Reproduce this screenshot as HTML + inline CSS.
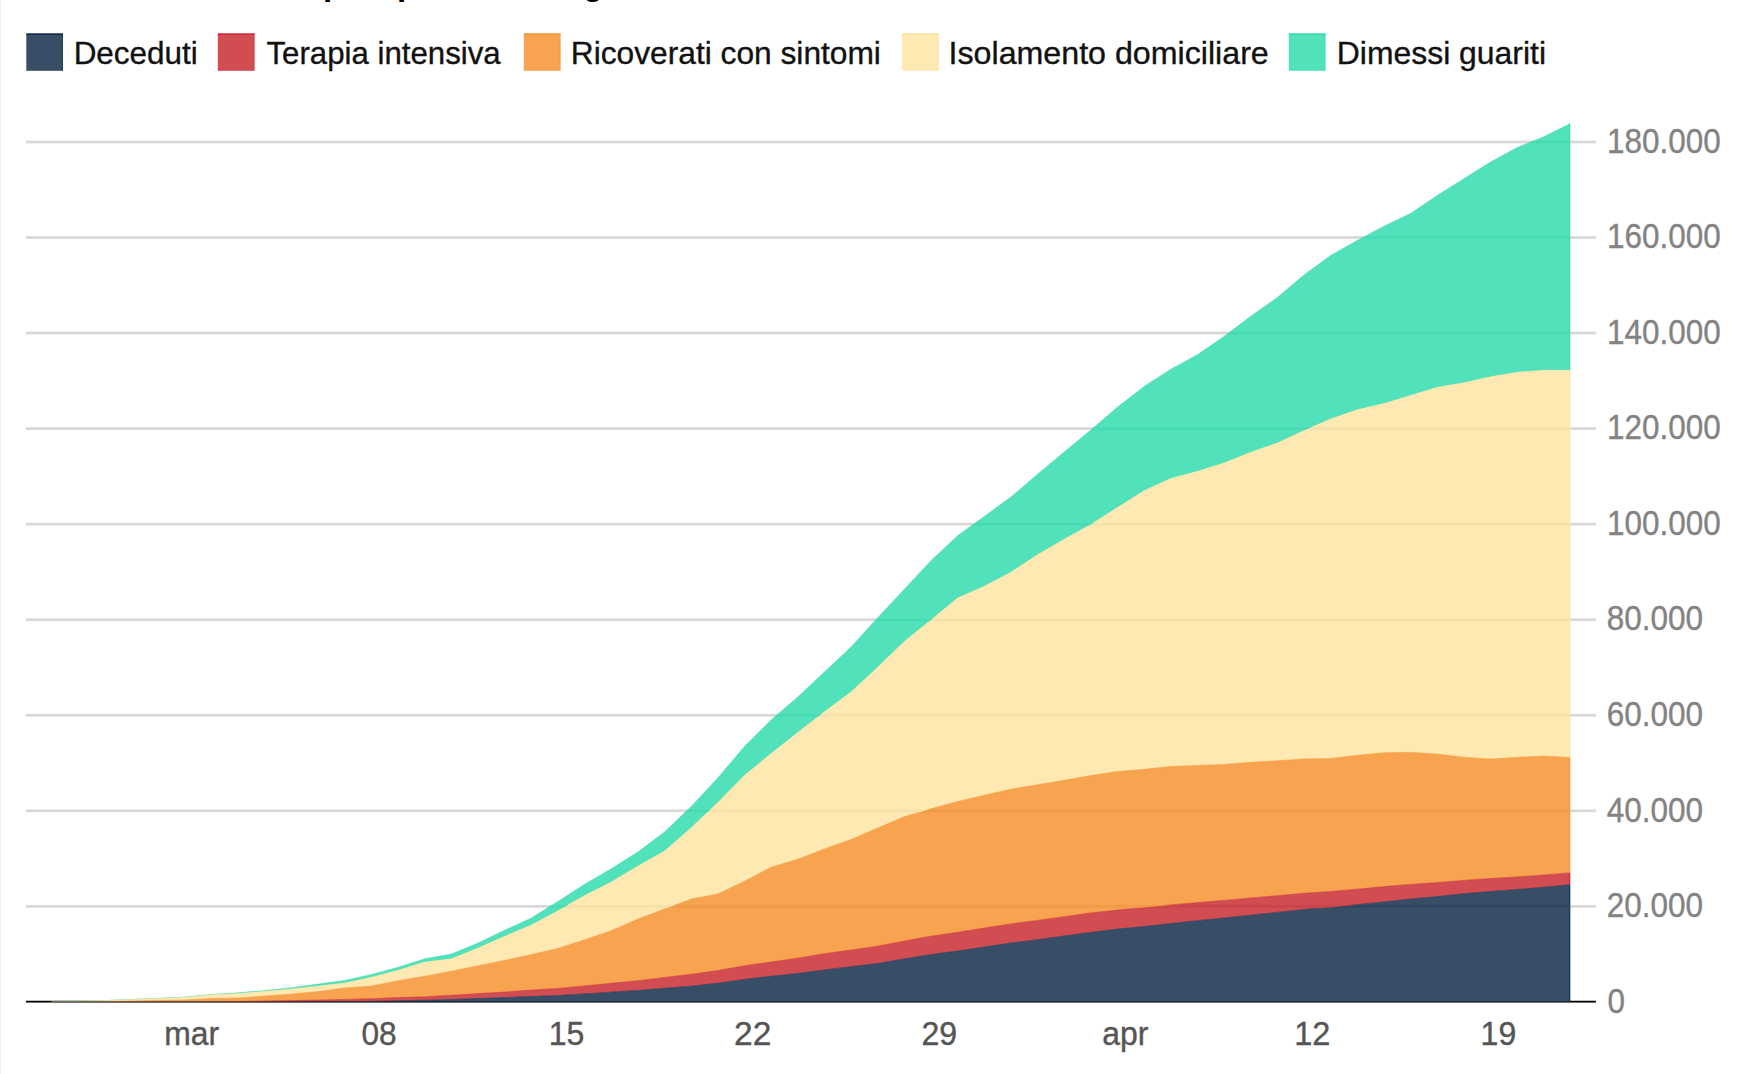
<!DOCTYPE html>
<html lang="it"><head><meta charset="utf-8"><title>Grafico</title>
<style>
html,body{margin:0;padding:0;background:#fff;}
body{width:1754px;height:1074px;position:relative;overflow:hidden;font-family:"Liberation Sans",sans-serif;}
svg{position:absolute;left:0;top:0;display:block}
.edge{position:absolute;left:0;top:0;width:1px;height:1074px;background:#f3f3f3}
text{font-family:"Liberation Sans",sans-serif}
.tt{font-size:33px;font-weight:bold;fill:#000}
.lt{font-size:32px;fill:#111;stroke:#111;stroke-width:0.35px}
.yl{font-size:35px;fill:#838383;stroke:#838383;stroke-width:0.4px}
.xl{font-size:34px;fill:#555;stroke:#555;stroke-width:0.4px}
</style></head><body>
<div class="edge"></div>
<svg width="1754" height="1074" viewBox="0 0 1754 1074">
<rect x="25.9" y="904.98" width="1570" height="2.75" fill="#d8d8d8"/>
<rect x="25.9" y="809.43" width="1570" height="2.75" fill="#d8d8d8"/>
<rect x="25.9" y="713.88" width="1570" height="2.75" fill="#d8d8d8"/>
<rect x="25.9" y="618.33" width="1570" height="2.75" fill="#d8d8d8"/>
<rect x="25.9" y="522.78" width="1570" height="2.75" fill="#d8d8d8"/>
<rect x="25.9" y="427.23" width="1570" height="2.75" fill="#d8d8d8"/>
<rect x="25.9" y="331.68" width="1570" height="2.75" fill="#d8d8d8"/>
<rect x="25.9" y="236.13" width="1570" height="2.75" fill="#d8d8d8"/>
<rect x="25.9" y="140.59" width="1570" height="2.75" fill="#d8d8d8"/>
<rect x="25.9" y="1000.75" width="1570" height="1.8" fill="#000"/>
<clipPath id="cp"><rect x="0" y="0" width="1754" height="1001.55"/></clipPath><g clip-path="url(#cp)">
<path id="b4" d="M51.7,1001.4L78.3,1001.0L105.0,1000.6L131.6,999.4L158.3,998.3L184.9,997.1L211.6,994.4L238.2,992.8L264.9,990.5L291.5,987.7L318.1,984.1L344.8,980.4L371.4,974.4L398.1,967.3L424.7,958.7L451.4,954.0L478.0,943.0L504.6,930.3L531.3,918.1L557.9,901.4L584.6,884.3L611.2,868.8L637.9,852.0L664.5,831.9L691.2,806.5L717.8,777.9L744.4,746.5L771.1,720.0L797.7,697.1L824.4,672.0L851.0,647.1L877.7,617.7L904.3,589.3L930.9,560.7L957.6,535.8L984.2,516.4L1010.9,497.1L1037.5,474.2L1064.2,451.9L1090.8,430.0L1117.5,407.1L1144.1,386.5L1170.7,369.3L1197.4,354.7L1224.0,336.4L1250.7,316.3L1277.3,297.5L1304.0,275.0L1330.6,255.5L1357.2,240.4L1383.9,226.2L1410.5,213.5L1437.2,195.4L1463.8,178.7L1490.5,162.0L1517.1,147.5L1543.8,136.7L1569.9,123.7L1569.9,370.2L1543.8,370.2L1517.1,372.3L1490.5,376.7L1463.8,382.8L1437.2,387.3L1410.5,395.5L1383.9,403.6L1357.2,409.7L1330.6,418.9L1304.0,430.5L1277.3,443.0L1250.7,452.3L1224.0,463.0L1197.4,471.3L1170.7,478.4L1144.1,490.7L1117.5,507.4L1090.8,524.4L1064.2,539.3L1037.5,554.7L1010.9,572.2L984.2,586.3L957.6,598.0L930.9,619.9L904.3,641.6L877.7,667.2L851.0,691.9L824.4,711.8L797.7,732.6L771.1,753.5L744.4,775.5L717.8,802.4L691.2,827.7L664.5,851.1L637.9,866.0L611.2,882.0L584.6,895.4L557.9,910.8L531.3,925.0L504.6,936.3L478.0,948.0L451.4,958.8L424.7,962.1L398.1,970.2L371.4,977.2L344.8,982.9L318.1,986.0L291.5,989.1L264.9,991.3L238.2,993.5L211.6,994.8L184.9,997.3L158.3,998.5L131.6,999.6L105.0,1000.6L78.3,1001.0L51.7,1001.4Z" fill="#51e2bc" stroke="#3adcb1" stroke-width="0.8" stroke-opacity="0.6" stroke-linejoin="round"/>
<path id="b3" d="M51.7,1001.4L78.3,1001.0L105.0,1000.6L131.6,999.6L158.3,998.5L184.9,997.3L211.6,994.8L238.2,993.5L264.9,991.3L291.5,989.1L318.1,986.0L344.8,982.9L371.4,977.2L398.1,970.2L424.7,962.1L451.4,958.8L478.0,948.0L504.6,936.3L531.3,925.0L557.9,910.8L584.6,895.4L611.2,882.0L637.9,866.0L664.5,851.1L691.2,827.7L717.8,802.4L744.4,775.5L771.1,753.5L797.7,732.6L824.4,711.8L851.0,691.9L877.7,667.2L904.3,641.6L930.9,619.9L957.6,598.0L984.2,586.3L1010.9,572.2L1037.5,554.7L1064.2,539.3L1090.8,524.4L1117.5,507.4L1144.1,490.7L1170.7,478.4L1197.4,471.3L1224.0,463.0L1250.7,452.3L1277.3,443.0L1304.0,430.5L1330.6,418.9L1357.2,409.7L1383.9,403.6L1410.5,395.5L1437.2,387.3L1463.8,382.8L1490.5,376.7L1517.1,372.3L1543.8,370.2L1569.9,370.2L1569.9,757.6L1543.8,756.0L1517.1,757.3L1490.5,759.0L1463.8,757.2L1437.2,754.1L1410.5,752.3L1383.9,752.8L1357.2,755.3L1330.6,758.4L1304.0,758.9L1277.3,760.8L1250.7,762.3L1224.0,764.4L1197.4,765.4L1170.7,766.5L1144.1,769.3L1117.5,771.4L1090.8,775.6L1064.2,780.3L1037.5,784.7L1010.9,789.2L984.2,795.3L957.6,801.5L930.9,808.8L904.3,816.7L877.7,828.0L851.0,839.6L824.4,848.9L797.7,859.3L771.1,867.2L744.4,881.2L717.8,894.0L691.2,899.0L664.5,908.9L637.9,919.1L611.2,930.7L584.6,939.7L557.9,948.4L531.3,954.6L504.6,960.4L478.0,965.7L451.4,971.2L424.7,976.2L398.1,980.7L371.4,986.0L344.8,987.9L318.1,991.6L291.5,994.1L264.9,996.1L238.2,997.9L211.6,998.6L184.9,999.9L158.3,1000.4L131.6,1001.0L105.0,1001.7L78.3,1001.7L51.7,1001.9Z" fill="#fee9b2" stroke="#fde2a0" stroke-width="0.8" stroke-opacity="0.6" stroke-linejoin="round"/>
<path id="b2" d="M51.7,1001.9L78.3,1001.7L105.0,1001.7L131.6,1001.0L158.3,1000.4L184.9,999.9L211.6,998.6L238.2,997.9L264.9,996.1L291.5,994.1L318.1,991.6L344.8,987.9L371.4,986.0L398.1,980.7L424.7,976.2L451.4,971.2L478.0,965.7L504.6,960.4L531.3,954.6L557.9,948.4L584.6,939.7L611.2,930.7L637.9,919.1L664.5,908.9L691.2,899.0L717.8,894.0L744.4,881.2L771.1,867.2L797.7,859.3L824.4,848.9L851.0,839.6L877.7,828.0L904.3,816.7L930.9,808.8L957.6,801.5L984.2,795.3L1010.9,789.2L1037.5,784.7L1064.2,780.3L1090.8,775.6L1117.5,771.4L1144.1,769.3L1170.7,766.5L1197.4,765.4L1224.0,764.4L1250.7,762.3L1277.3,760.8L1304.0,758.9L1330.6,758.4L1357.2,755.3L1383.9,752.8L1410.5,752.3L1437.2,754.1L1463.8,757.2L1490.5,759.0L1517.1,757.3L1543.8,756.0L1569.9,757.6L1569.9,872.9L1543.8,875.0L1517.1,876.9L1490.5,878.5L1463.8,880.4L1437.2,882.6L1410.5,884.4L1383.9,886.6L1357.2,889.2L1330.6,891.5L1304.0,893.3L1277.3,895.7L1250.7,898.0L1224.0,900.4L1197.4,902.6L1170.7,904.9L1144.1,907.6L1117.5,910.0L1090.8,912.9L1064.2,916.7L1037.5,920.4L1010.9,923.9L984.2,928.1L957.6,932.3L930.9,936.2L904.3,941.0L877.7,946.2L851.0,950.0L824.4,953.7L797.7,958.2L771.1,962.0L744.4,965.8L717.8,970.6L691.2,974.3L664.5,977.5L637.9,980.7L611.2,983.3L584.6,985.9L557.9,988.4L531.3,990.1L504.6,992.1L478.0,993.6L451.4,995.3L424.7,996.8L398.1,997.6L371.4,998.7L344.8,999.4L318.1,1000.1L291.5,1000.6L264.9,1001.0L238.2,1001.5L211.6,1001.7L184.9,1001.9L158.3,1001.9L131.6,1001.9L105.0,1001.9L78.3,1001.9L51.7,1001.9Z" fill="#f8a350" stroke="#f59a38" stroke-width="0.8" stroke-opacity="0.6" stroke-linejoin="round"/>
<path id="b1" d="M51.7,1001.9L78.3,1001.9L105.0,1001.9L131.6,1001.9L158.3,1001.9L184.9,1001.9L211.6,1001.7L238.2,1001.5L264.9,1001.0L291.5,1000.6L318.1,1000.1L344.8,999.4L371.4,998.7L398.1,997.6L424.7,996.8L451.4,995.3L478.0,993.6L504.6,992.1L531.3,990.1L557.9,988.4L584.6,985.9L611.2,983.3L637.9,980.7L664.5,977.5L691.2,974.3L717.8,970.6L744.4,965.8L771.1,962.0L797.7,958.2L824.4,953.7L851.0,950.0L877.7,946.2L904.3,941.0L930.9,936.2L957.6,932.3L984.2,928.1L1010.9,923.9L1037.5,920.4L1064.2,916.7L1090.8,912.9L1117.5,910.0L1144.1,907.6L1170.7,904.9L1197.4,902.6L1224.0,900.4L1250.7,898.0L1277.3,895.7L1304.0,893.3L1330.6,891.5L1357.2,889.2L1383.9,886.6L1410.5,884.4L1437.2,882.6L1463.8,880.4L1490.5,878.5L1517.1,876.9L1543.8,875.0L1569.9,872.9L1569.9,884.7L1543.8,887.3L1517.1,889.5L1490.5,891.5L1463.8,893.8L1437.2,896.6L1410.5,899.1L1383.9,901.9L1357.2,904.7L1330.6,907.4L1304.0,909.5L1277.3,912.4L1250.7,915.2L1224.0,918.1L1197.4,920.7L1170.7,923.6L1144.1,926.6L1117.5,929.1L1090.8,932.4L1064.2,936.0L1037.5,939.7L1010.9,943.1L984.2,947.1L957.6,951.0L930.9,954.6L904.3,958.9L877.7,963.5L851.0,966.7L824.4,969.9L797.7,973.5L771.1,976.3L744.4,979.4L717.8,983.2L691.2,986.2L664.5,988.3L637.9,990.5L611.2,992.2L584.6,993.9L557.9,995.6L531.3,996.5L504.6,997.6L478.0,998.5L451.4,999.5L424.7,1000.3L398.1,1000.8L371.4,1001.4L344.8,1001.6L318.1,1001.8L291.5,1001.9L264.9,1001.9L238.2,1001.9L211.6,1001.9L184.9,1001.9L158.3,1001.9L131.6,1001.9L105.0,1001.9L78.3,1001.9L51.7,1001.9Z" fill="#d24d52" stroke="#cb2936" stroke-width="0.8" stroke-opacity="0.6" stroke-linejoin="round"/>
<path id="b0" d="M51.7,1001.9L78.3,1001.9L105.0,1001.9L131.6,1001.9L158.3,1001.9L184.9,1001.9L211.6,1001.9L238.2,1001.9L264.9,1001.9L291.5,1001.9L318.1,1001.8L344.8,1001.6L371.4,1001.4L398.1,1000.8L424.7,1000.3L451.4,999.5L478.0,998.5L504.6,997.6L531.3,996.5L557.9,995.6L584.6,993.9L611.2,992.2L637.9,990.5L664.5,988.3L691.2,986.2L717.8,983.2L744.4,979.4L771.1,976.3L797.7,973.5L824.4,969.9L851.0,966.7L877.7,963.5L904.3,958.9L930.9,954.6L957.6,951.0L984.2,947.1L1010.9,943.1L1037.5,939.7L1064.2,936.0L1090.8,932.4L1117.5,929.1L1144.1,926.6L1170.7,923.6L1197.4,920.7L1224.0,918.1L1250.7,915.2L1277.3,912.4L1304.0,909.5L1330.6,907.4L1357.2,904.7L1383.9,901.9L1410.5,899.1L1437.2,896.6L1463.8,893.8L1490.5,891.5L1517.1,889.5L1543.8,887.3L1569.9,884.7L1569.9,1001.9L1543.8,1001.9L1517.1,1001.9L1490.5,1001.9L1463.8,1001.9L1437.2,1001.9L1410.5,1001.9L1383.9,1001.9L1357.2,1001.9L1330.6,1001.9L1304.0,1001.9L1277.3,1001.9L1250.7,1001.9L1224.0,1001.9L1197.4,1001.9L1170.7,1001.9L1144.1,1001.9L1117.5,1001.9L1090.8,1001.9L1064.2,1001.9L1037.5,1001.9L1010.9,1001.9L984.2,1001.9L957.6,1001.9L930.9,1001.9L904.3,1001.9L877.7,1001.9L851.0,1001.9L824.4,1001.9L797.7,1001.9L771.1,1001.9L744.4,1001.9L717.8,1001.9L691.2,1001.9L664.5,1001.9L637.9,1001.9L611.2,1001.9L584.6,1001.9L557.9,1001.9L531.3,1001.9L504.6,1001.9L478.0,1001.9L451.4,1001.9L424.7,1001.9L398.1,1001.9L371.4,1001.9L344.8,1001.9L318.1,1001.9L291.5,1001.9L264.9,1001.9L238.2,1001.9L211.6,1001.9L184.9,1001.9L158.3,1001.9L131.6,1001.9L105.0,1001.9L78.3,1001.9L51.7,1001.9Z" fill="#384e67" stroke="#043a5c" stroke-width="0.8" stroke-opacity="0.6" stroke-linejoin="round"/>
<rect x="1569.0" y="884.7" width="1.15" height="117.2" fill="#073a5d"/>
<rect x="1569.0" y="872.9" width="1.15" height="11.8" fill="#cc2a36"/>
<rect x="1569.0" y="757.6" width="1.15" height="115.3" fill="#f69a3a"/>
<rect x="1569.0" y="370.2" width="1.15" height="387.5" fill="#fde3a4"/>
<rect x="1569.0" y="123.7" width="1.15" height="246.5" fill="#3cdcb2"/>
</g>
<clipPath id="c0"><use href="#b0"/></clipPath><g clip-path="url(#c0)" fill="#30465f">
<rect x="25.9" y="904.98" width="1544.3" height="2.75"/>
</g>
<clipPath id="c1"><use href="#b1"/></clipPath><g clip-path="url(#c1)" fill="#ca454a">
<rect x="25.9" y="904.98" width="1544.3" height="2.75"/>
</g>
<clipPath id="c2"><use href="#b2"/></clipPath><g clip-path="url(#c2)" fill="#f09b48">
<rect x="25.9" y="904.98" width="1544.3" height="2.75"/>
<rect x="25.9" y="809.43" width="1544.3" height="2.75"/>
</g>
<clipPath id="c3"><use href="#b3"/></clipPath><g clip-path="url(#c3)" fill="#f6e1aa">
<rect x="25.9" y="904.98" width="1544.3" height="2.75"/>
<rect x="25.9" y="809.43" width="1544.3" height="2.75"/>
<rect x="25.9" y="713.88" width="1544.3" height="2.75"/>
<rect x="25.9" y="618.33" width="1544.3" height="2.75"/>
<rect x="25.9" y="522.78" width="1544.3" height="2.75"/>
<rect x="25.9" y="427.23" width="1544.3" height="2.75"/>
</g>
<clipPath id="c4"><use href="#b4"/></clipPath><g clip-path="url(#c4)" fill="#49dab4">
<rect x="25.9" y="904.98" width="1544.3" height="2.75"/>
<rect x="25.9" y="809.43" width="1544.3" height="2.75"/>
<rect x="25.9" y="713.88" width="1544.3" height="2.75"/>
<rect x="25.9" y="618.33" width="1544.3" height="2.75"/>
<rect x="25.9" y="522.78" width="1544.3" height="2.75"/>
<rect x="25.9" y="427.23" width="1544.3" height="2.75"/>
<rect x="25.9" y="331.68" width="1544.3" height="2.75"/>
<rect x="25.9" y="236.13" width="1544.3" height="2.75"/>
<rect x="25.9" y="140.59" width="1544.3" height="2.75"/>
</g>
<rect x="26.3" y="33.5" width="36.7" height="37.3" fill="#384e67"/>
<rect x="26.3" y="33.5" width="36.7" height="1.3" fill="#0b2748"/>
<rect x="62.0" y="33.5" width="1" height="37.3" fill="#0b2748" fill-opacity="0.45"/>
<rect x="217.8" y="33.5" width="36.7" height="37.3" fill="#d24d52"/>
<rect x="217.8" y="33.5" width="36.7" height="1.3" fill="#cb2732"/>
<rect x="253.5" y="33.5" width="1" height="37.3" fill="#cb2732" fill-opacity="0.45"/>
<rect x="523.8" y="33.5" width="36.7" height="37.3" fill="#f8a350"/>
<rect x="523.8" y="33.5" width="36.7" height="1.3" fill="#f6922e"/>
<rect x="559.5" y="33.5" width="1" height="37.3" fill="#f6922e" fill-opacity="0.45"/>
<rect x="902.0" y="33.5" width="36.7" height="37.3" fill="#fee9b2"/>
<rect x="902.0" y="33.5" width="36.7" height="1.3" fill="#fddf98"/>
<rect x="937.7" y="33.5" width="1" height="37.3" fill="#fddf98" fill-opacity="0.45"/>
<rect x="1288.8" y="33.5" width="36.7" height="37.3" fill="#51e2bc"/>
<rect x="1288.8" y="33.5" width="36.7" height="1.3" fill="#30d9ab"/>
<rect x="1324.5" y="33.5" width="1" height="37.3" fill="#30d9ab" fill-opacity="0.45"/>
<text id="l0" x="73.63" y="64.0" class="lt" textLength="124.06" lengthAdjust="spacingAndGlyphs">Deceduti</text>
<text id="l1" x="266.53" y="64.0" class="lt" textLength="234.12" lengthAdjust="spacingAndGlyphs">Terapia intensiva</text>
<text id="l2" x="570.81" y="64.0" class="lt" textLength="310.11" lengthAdjust="spacingAndGlyphs">Ricoverati con sintomi</text>
<text id="l3" x="948.56" y="64.0" class="lt" textLength="320.22" lengthAdjust="spacingAndGlyphs">Isolamento domiciliare</text>
<text id="l4" x="1336.79" y="64.0" class="lt" textLength="209.25" lengthAdjust="spacingAndGlyphs">Dimessi guariti</text>
<text id="y0" x="1607.40" y="1012.6" class="yl" textLength="17.50" lengthAdjust="spacingAndGlyphs">0</text>
<text id="y1" x="1606.80" y="917.1" class="yl" textLength="96.29" lengthAdjust="spacingAndGlyphs">20.000</text>
<text id="y2" x="1606.80" y="821.5" class="yl" textLength="96.29" lengthAdjust="spacingAndGlyphs">40.000</text>
<text id="y3" x="1606.80" y="726.0" class="yl" textLength="96.29" lengthAdjust="spacingAndGlyphs">60.000</text>
<text id="y4" x="1606.80" y="630.4" class="yl" textLength="96.29" lengthAdjust="spacingAndGlyphs">80.000</text>
<text id="y5" x="1607.09" y="534.9" class="yl" textLength="113.63" lengthAdjust="spacingAndGlyphs">100.000</text>
<text id="y6" x="1607.09" y="439.3" class="yl" textLength="113.63" lengthAdjust="spacingAndGlyphs">120.000</text>
<text id="y7" x="1607.09" y="343.8" class="yl" textLength="113.63" lengthAdjust="spacingAndGlyphs">140.000</text>
<text id="y8" x="1607.09" y="248.2" class="yl" textLength="113.63" lengthAdjust="spacingAndGlyphs">160.000</text>
<text id="y9" x="1607.09" y="152.7" class="yl" textLength="113.63" lengthAdjust="spacingAndGlyphs">180.000</text>
<text id="x0" x="164.21" y="1044.8" class="xl" textLength="54.92" lengthAdjust="spacingAndGlyphs">mar</text>
<text id="x1" x="361.38" y="1044.8" class="xl" textLength="35.16" lengthAdjust="spacingAndGlyphs">08</text>
<text id="x2" x="548.63" y="1044.8" class="xl" textLength="35.62" lengthAdjust="spacingAndGlyphs">15</text>
<text id="x3" x="734.10" y="1044.8" class="xl" textLength="37.31" lengthAdjust="spacingAndGlyphs">22</text>
<text id="x4" x="921.38" y="1044.8" class="xl" textLength="35.69" lengthAdjust="spacingAndGlyphs">29</text>
<text id="x5" x="1102.37" y="1044.8" class="xl" textLength="46.08" lengthAdjust="spacingAndGlyphs">apr</text>
<text id="x6" x="1294.17" y="1044.8" class="xl" textLength="36.20" lengthAdjust="spacingAndGlyphs">12</text>
<text id="x7" x="1480.61" y="1044.8" class="xl" textLength="35.64" lengthAdjust="spacingAndGlyphs">19</text>
<text x="323.0" y="-5.0" class="tt">p</text>
<text x="396.9" y="-5.0" class="tt">p</text>
<text x="583.0" y="-5.0" class="tt">g</text>
</svg>
</body></html>
